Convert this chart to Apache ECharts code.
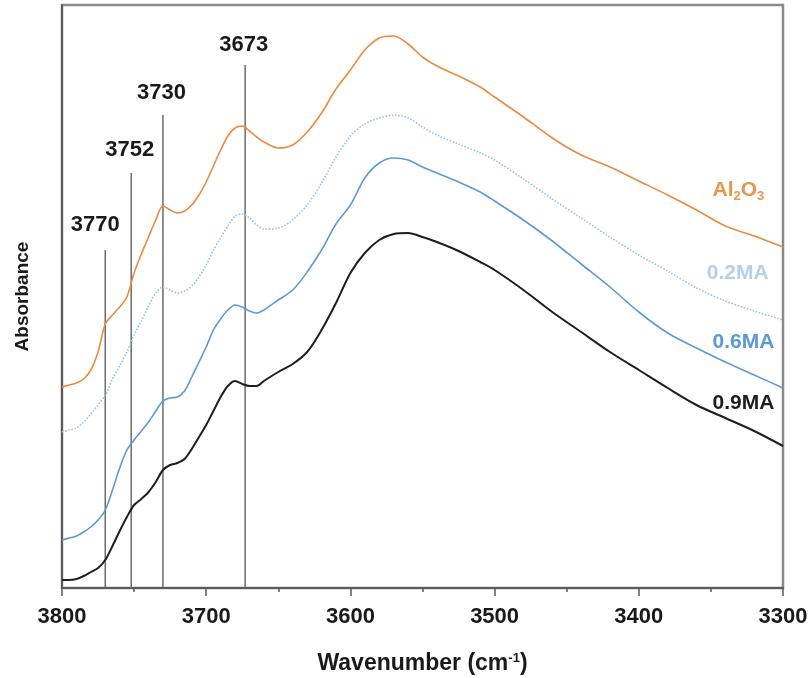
<!DOCTYPE html>
<html>
<head>
<meta charset="utf-8">
<script src="https://cdn.jsdelivr.net/npm/echarts@6/dist/echarts.min.js"></script>
<style>
html, body { margin: 0; padding: 0; background: #fff; }
#chart { width: 811px; height: 678px; }
</style>
</head>
<body>
<div id="chart"></div>
<script>
var chart = echarts.init(document.getElementById('chart'));

// wavenumber grid (cm-1)
var wavenumbers = [3800, 3795, 3790, 3785, 3780, 3775, 3770, 3765, 3760, 3755,
    3750, 3745, 3740, 3735, 3730, 3725, 3720, 3715, 3710, 3705,
    3700, 3695, 3690, 3685, 3680, 3675, 3670, 3665, 3660, 3650,
    3640, 3630, 3620, 3610, 3600, 3590, 3580, 3570, 3560, 3550,
    3540, 3525, 3510, 3500, 3480, 3460, 3440, 3420, 3400, 3380,
    3360, 3340, 3320, 3300];

// absorbance (a.u., stacked offsets)
var al2o3 = [0.201, 0.203, 0.205, 0.209, 0.218, 0.236, 0.264, 0.273, 0.281, 0.291,
    0.315, 0.334, 0.351, 0.368, 0.382, 0.378, 0.375, 0.377, 0.383, 0.393,
    0.406, 0.422, 0.438, 0.452, 0.460, 0.462, 0.457, 0.451, 0.446, 0.440,
    0.443, 0.456, 0.475, 0.499, 0.518, 0.538, 0.550, 0.552, 0.544, 0.531,
    0.522, 0.512, 0.501, 0.491, 0.471, 0.450, 0.433, 0.421, 0.407, 0.393,
    0.378, 0.362, 0.352, 0.341];
var ma02 = [0.156, 0.158, 0.160, 0.166, 0.174, 0.183, 0.193, 0.209, 0.222, 0.236,
    0.253, 0.267, 0.282, 0.295, 0.301, 0.298, 0.295, 0.297, 0.302, 0.311,
    0.323, 0.338, 0.350, 0.362, 0.372, 0.374, 0.370, 0.363, 0.359, 0.360,
    0.368, 0.383, 0.405, 0.431, 0.452, 0.464, 0.470, 0.473, 0.470, 0.461,
    0.453, 0.444, 0.435, 0.428, 0.409, 0.389, 0.370, 0.351, 0.333, 0.317,
    0.300, 0.287, 0.277, 0.268];
var ma06 = [0.048, 0.050, 0.052, 0.056, 0.061, 0.068, 0.078, 0.098, 0.120, 0.138,
    0.148, 0.157, 0.166, 0.177, 0.187, 0.190, 0.191, 0.197, 0.211, 0.226,
    0.241, 0.258, 0.269, 0.278, 0.283, 0.281, 0.277, 0.275, 0.278, 0.288,
    0.298, 0.316, 0.338, 0.364, 0.383, 0.410, 0.425, 0.430, 0.428, 0.421,
    0.415, 0.406, 0.396, 0.387, 0.368, 0.347, 0.324, 0.301, 0.276, 0.255,
    0.240, 0.226, 0.213, 0.200];
var ma09 = [0.008, 0.008, 0.009, 0.012, 0.016, 0.020, 0.028, 0.042, 0.057, 0.071,
    0.083, 0.089, 0.096, 0.106, 0.118, 0.123, 0.125, 0.129, 0.139, 0.151,
    0.163, 0.177, 0.191, 0.202, 0.207, 0.204, 0.202, 0.202, 0.207, 0.216,
    0.224, 0.236, 0.258, 0.285, 0.315, 0.335, 0.348, 0.354, 0.355, 0.351,
    0.346, 0.337, 0.326, 0.318, 0.298, 0.276, 0.256, 0.236, 0.218, 0.200,
    0.183, 0.170, 0.157, 0.142];

// peak markers
var peakPositions = [3770, 3752, 3730, 3673];
var peakLineTops = [0.338, 0.415, 0.473, 0.523];
var peakLabelX = [3777, 3753, 3731, 3674];
var peakLabelY = [0.363, 0.438, 0.495, 0.543];

// curve names at the right end
var curveNames = ['Al2O3', '0.2MA', '0.6MA', '0.9MA'];
var curveNameX = [3313, 3310, 3306, 3306];
var curveNameY = [0.398, 0.315, 0.246, 0.185];

var curveData = [al2o3, ma02, ma06, ma09];
var curveColors = ['#E98B3E', '#9DC3E6', '#5B9BD5', '#1E1E1E'];
var labelColors = ['#E8964C', '#B7CFE8', '#5B9BD5', '#1E1E1E'];
var curveTypes = ['solid', 'dotted', 'solid', 'solid'];
var curveWidths = [1.6, 1.6, 1.6, 2];

var fontFamily = '"Liberation Sans", Arial, sans-serif';

var series = [];

// vertical peak lines
peakPositions.forEach(function (p, i) {
    series.push({
        type: 'line',
        data: [[p, 0], [p, peakLineTops[i]]],
        symbol: 'none',
        silent: true,
        lineStyle: { color: '#6b6b6b', width: 1.5 },
        z: 1
    });
});

// spectra
curveData.forEach(function (vals, k) {
    series.push({
        name: curveNames[k],
        type: 'line',
        data: wavenumbers.map(function (w, i) { return [w, vals[i]]; }),
        symbol: 'none',
        smooth: 0.3,
        lineStyle: { color: curveColors[k], width: curveWidths[k], type: curveTypes[k] },
        z: 3
    });
});

// peak labels
series.push({
    type: 'scatter',
    symbolSize: 1,
    itemStyle: { color: 'rgba(0,0,0,0)', opacity: 1 },
    silent: true,
    data: peakPositions.map(function (p, i) { return { value: [peakLabelX[i], peakLabelY[i]], name: String(p) }; }),
    label: {
        show: true,
        position: 'inside',
        formatter: '{b}',
        color: '#1a1a1a',
        fontSize: 22,
        fontWeight: 'bold',
        fontFamily: fontFamily
    },
    z: 5
});

// curve name labels
series.push({
    type: 'scatter',
    symbolSize: 1,
    itemStyle: { color: 'rgba(0,0,0,0)', opacity: 1 },
    silent: true,
    data: curveNames.map(function (n, i) {
        var txt = n === 'Al2O3' ? '{a|Al}{s|2}{a|O}{s|3}' : '{a|' + n + '}';
        return {
            value: [curveNameX[i], curveNameY[i]],
            label: {
                formatter: txt,
                rich: {
                    a: { color: labelColors[i], fontSize: 21, fontWeight: 'bold', fontFamily: fontFamily },
                    s: { color: labelColors[i], fontSize: 13, fontWeight: 'bold', fontFamily: fontFamily,
                         verticalAlign: 'bottom', padding: [12, 0, 0, 0] }
                }
            }
        };
    }),
    label: {
        show: true,
        position: 'inside',
        align: 'right'
    },
    z: 5
});

var option = {
    animation: false,
    backgroundColor: '#fff',
    grid: {
        left: 62,
        right: 28,
        top: 5,
        bottom: 90,
        outerBoundsMode: 'none',
        show: true,
        borderColor: '#8a8a8a',
        borderWidth: 2.5
    },
    xAxis: {
        type: 'value',
        inverse: true,
        min: 3300,
        max: 3800,
        interval: 100,
        name: '{t|Wavenumber (cm}{sup|-1}{t|)}',
        nameLocation: 'middle',
        nameGap: 64,
        nameTextStyle: {
            rich: {
                t: { fontSize: 23, fontWeight: 'bold', color: '#1a1a1a', fontFamily: fontFamily },
                sup: { fontSize: 13, fontWeight: 'bold', color: '#1a1a1a', fontFamily: fontFamily,
                       verticalAlign: 'top', padding: [0, 0, 10, 0] }
            }
        },
        axisLine: { lineStyle: { color: '#5a5a5a', width: 2 } },
        axisTick: { show: true, inside: false, length: 8, lineStyle: { color: '#5a5a5a', width: 1.5 } },
        minorTick: { show: true, splitNumber: 2, length: 4, lineStyle: { color: '#5a5a5a', width: 1.5 } },
        axisLabel: {
            color: '#1a1a1a',
            fontSize: 22,
            fontWeight: 'bold',
            fontFamily: fontFamily,
            margin: 18,
            formatter: function (v) { return String(v); }
        },
        splitLine: { show: false },
        minorSplitLine: { show: false }
    },
    yAxis: {
        type: 'value',
        min: 0,
        max: 0.583,
        name: 'Absorbance',
        nameLocation: 'middle',
        nameGap: 30,
        nameRotate: 90,
        nameTextStyle: { fontSize: 19, fontWeight: 'bold', color: '#1a1a1a', fontFamily: fontFamily },
        axisLine: { show: true, lineStyle: { color: '#5a5a5a', width: 2 } },
        axisTick: { show: false },
        axisLabel: { show: false },
        splitLine: { show: false }
    },
    series: series
};

chart.setOption(option);
</script>
</body>
</html>
